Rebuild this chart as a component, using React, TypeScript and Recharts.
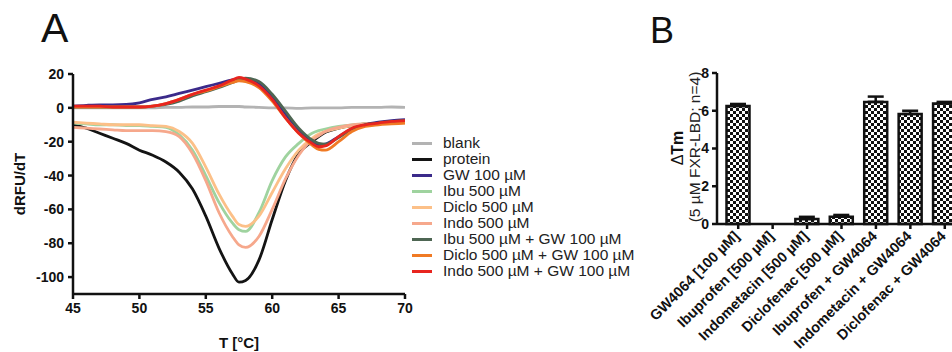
import React from 'react';
import {
  LineChart,
  Line,
  XAxis,
  YAxis,
  BarChart,
  Bar,
  ErrorBar,
} from 'recharts';

// Panel A: melting curves (first derivative), sampled temperatures
const temps = [45, 46, 47, 48, 49, 50, 51, 52, 53, 54, 55, 56, 57, 57.5, 58, 59, 60, 61, 62, 63, 63.5, 64, 65, 66, 67, 68, 69, 70];

const blank = [0, 0, 0, 0, 0, 0, 0, 0.3, 0.3, 0.5, 0.5, 0.8, 0.8, 0.8, 0.5, 0.3, 0, 0, -0.3, 0, 0, 0, 0, 0.3, 0.3, 0.3, 0.5, 0.3];
const protein = [-10, -12, -15, -18, -21, -25, -28, -32, -38, -48, -64, -83, -98, -103, -102, -90, -66, -43, -27, -20, -17, -14.5, -12, -10.5, -9.5, -9, -8.5, -8];
const gw100 = [1, 1.5, 1.8, 1.8, 2, 3, 5, 6.5, 8.5, 10.5, 12.5, 14.5, 16.5, 17, 17, 14, 6, -4, -13, -20, -22, -21.5, -17, -12.5, -10, -8.5, -7.5, -7];
const ibu500 = [-9, -9.5, -10, -10, -10.5, -10.5, -11, -11.5, -16, -25, -40, -56, -68, -72, -73, -62, -43, -29, -21, -15, -13.5, -12.5, -11, -10, -9.5, -9, -8.5, -8];
const diclo500 = [-8.5, -9, -9.5, -10, -10, -10, -10.5, -11, -14, -21, -35, -51, -64, -69, -70, -64, -50, -36, -25, -18, -15.5, -14, -12, -10.5, -9.5, -9, -9, -9];
const indo500 = [-11.5, -12, -12.5, -13, -13.5, -13.5, -13.5, -14, -17, -27, -43, -62, -76, -81, -82.5, -76, -60, -42, -28, -19, -16.5, -14, -11.5, -10, -9.5, -9, -9, -8.5];
const ibuGw = [0.5, 0.5, 0.5, 0.5, 0.5, 0.5, 1, 2, 4, 7, 9.5, 12, 15, 16.5, 17.5, 15.5, 8, -2, -12, -19, -21, -21.5, -17.5, -12.5, -10, -9, -8, -7.5];
const dicloGw = [0.5, 0.5, 0.5, 0.5, 0.5, 0.5, 1, 2.5, 5, 8, 10, 12.5, 15, 16, 15.5, 12, 4, -6, -15, -22, -24.5, -25, -20, -14, -11, -10, -9.5, -9];
const indoGw = [1, 1, 1, 0.5, 0.5, 0.5, 1, 2.5, 5, 8, 10.5, 13, 16.5, 18, 17, 13, 5, -6, -15, -21, -23, -22.5, -17, -12, -10, -9, -8, -7.5];

const xTicks = [45, 50, 55, 60, 65, 70];
const yTicks = [20, 0, -20, -40, -60, -80, -100];

const series = [
  { key: 'blank', name: 'blank', values: blank, color: '#b3b3b3' },
  { key: 'protein', name: 'protein', values: protein, color: '#141414' },
  { key: 'ibu500', name: 'Ibu 500 µM', values: ibu500, color: '#9fd39f' },
  { key: 'diclo500', name: 'Diclo 500 µM', values: diclo500, color: '#fcc088' },
  { key: 'indo500', name: 'Indo 500 µM', values: indo500, color: '#f6a88c' },
  { key: 'gw100', name: 'GW 100 µM', values: gw100, color: '#3b2a8a' },
  { key: 'ibuGw', name: 'Ibu 500 µM + GW 100 µM', values: ibuGw, color: '#4e6653' },
  { key: 'dicloGw', name: 'Diclo 500 µM + GW 100 µM', values: dicloGw, color: '#f07a24' },
  { key: 'indoGw', name: 'Indo 500 µM + GW 100 µM', values: indoGw, color: '#e8251f' },
];

// legend order as in the figure
const legendOrder = ['blank', 'protein', 'gw100', 'ibu500', 'diclo500', 'indo500', 'ibuGw', 'dicloGw', 'indoGw'];

// Panel B: delta Tm
const compounds = [
  'GW4064 [100 µM]',
  'Ibuprofen [500 µM]',
  'Indometacin [500 µM]',
  'Diclofenac [500 µM]',
  'Ibuprofen + GW4064',
  'Indometacin + GW4064',
  'Diclofenac + GW4064',
];
const deltaTm = [6.25, 0, 0.26, 0.39, 6.47, 5.83, 6.39];
const deltaTmErr = [0.11, 0, 0.12, 0.09, 0.28, 0.17, 0.08];

const curveData = temps.map((t, i) => {
  const row: { [k: string]: number } = { t };
  series.forEach((s) => {
    row[s.key] = s.values[i];
  });
  return row;
});

const barData = compounds.map((name, i) => ({
  name,
  dtm: deltaTm[i],
  err: [0, deltaTmErr[i]],
}));

const FONT = '"Liberation Sans", Arial, sans-serif';

const RotatedTick = (props: any) => {
  const { x, y, payload } = props;
  const tx = x + 2;
  const ty = y + 6;
  return (
    <text
      x={tx}
      y={ty}
      transform={`rotate(-45, ${tx}, ${ty})`}
      textAnchor="end"
      fontFamily={FONT}
      fontWeight="bold"
      fontSize={14.5}
      fill="#111"
    >
      {payload.value}
    </text>
  );
};

export default function App() {
  const axisTick = { fontFamily: FONT, fontWeight: 'bold', fontSize: 14, fill: '#111' };
  return (
    <div
      style={{
        position: 'absolute',
        left: 0,
        top: 0,
        width: 952,
        height: 352,
        overflow: 'hidden',
        background: '#fff',
        fontFamily: FONT,
      }}
    >
      {/* Panel letters */}
      <div style={{ position: 'absolute', left: 41, top: 6, fontSize: 41, lineHeight: '44px', color: '#111' }}>A</div>
      <div style={{ position: 'absolute', left: 650, top: 12, fontSize: 36, lineHeight: '38px', color: '#111' }}>B</div>

      {/* Panel A */}
      <div style={{ position: 'absolute', left: 0, top: 0 }}>
        <LineChart
          width={640}
          height={352}
          data={curveData}
          margin={{ top: 74, right: 235, bottom: 0, left: 0 }}
        >
          <XAxis
            dataKey="t"
            type="number"
            domain={[45, 70]}
            ticks={xTicks}
            allowDataOverflow
            height={58}
            stroke="#111"
            strokeWidth={2.5}
            tickSize={5}
            tickMargin={4}
            tick={axisTick}
            label={{
              value: 'T [°C]',
              position: 'insideBottom',
              offset: 4,
              style: { fontFamily: FONT, fontWeight: 'bold', fontSize: 15, fill: '#111' },
            }}
          />
          <YAxis
            type="number"
            domain={[-110, 20]}
            ticks={yTicks}
            allowDataOverflow
            width={73}
            stroke="#111"
            strokeWidth={2.5}
            tickSize={5}
            tickMargin={4}
            tick={axisTick}
            label={{
              value: 'dRFU/dT',
              angle: -90,
              position: 'insideLeft',
              offset: 20,
              style: { fontFamily: FONT, fontWeight: 'bold', fontSize: 15, fill: '#111', textAnchor: 'middle' },
            }}
          />
          {series.map((s) => (
            <Line
              key={s.key}
              type="monotone"
              dataKey={s.key}
              name={s.name}
              stroke={s.color}
              strokeWidth={2.8}
              dot={false}
              isAnimationActive={false}
            />
          ))}
        </LineChart>
      </div>

      {/* Legend for panel A */}
      <div style={{ position: 'absolute', left: 412, top: 135 }}>
        {legendOrder.map((k) => {
          const s = series.find((x) => x.key === k)!;
          return (
            <div key={k} style={{ display: 'flex', alignItems: 'center', height: 16 }}>
              <span style={{ width: 20, height: 3, background: s.color, display: 'inline-block', marginRight: 11 }} />
              <span style={{ fontSize: 15.5, color: '#222', whiteSpace: 'nowrap' }}>{s.name}</span>
            </div>
          );
        })}
      </div>

      {/* Panel B y-axis title */}
      <div
        style={{
          position: 'absolute',
          left: 678,
          top: 148,
          transform: 'translate(-50%, -50%) rotate(-90deg)',
          whiteSpace: 'nowrap',
          fontSize: 16,
          color: '#111',
        }}
      >
        Δ<b>Tm</b>
      </div>
      <div
        style={{
          position: 'absolute',
          left: 695,
          top: 147,
          transform: 'translate(-50%, -50%) rotate(-90deg)',
          whiteSpace: 'nowrap',
          fontSize: 15.5,
          color: '#222',
        }}
      >
        (5 µM FXR-LBD; n=4)
      </div>

      {/* Panel B */}
      <div style={{ position: 'absolute', left: 640, top: 0 }}>
        <BarChart
          width={330}
          height={352}
          data={barData}
          margin={{ top: 73, right: 8, bottom: 0, left: 0 }}
          barCategoryGap={5.5}
        >
          <defs>
            <pattern id="checker" width={6} height={6} patternUnits="userSpaceOnUse">
              <rect width={6} height={6} fill="#fff" />
              <rect width={3} height={3} fill="#111" />
              <rect x={3} y={3} width={3} height={3} fill="#111" />
            </pattern>
          </defs>
          <XAxis
            dataKey="name"
            interval={0}
            height={128}
            padding={{ left: 4, right: 0 }}
            stroke="#111"
            strokeWidth={2.5}
            tickSize={5}
            tick={<RotatedTick />}
          />
          <YAxis
            type="number"
            domain={[0, 8]}
            ticks={[0, 2, 4, 6, 8]}
            width={77}
            stroke="#111"
            strokeWidth={2.5}
            tickSize={5}
            tickMargin={3}
            tick={axisTick}
          />
          <Bar
            dataKey="dtm"
            fill="url(#checker)"
            stroke="#111"
            strokeWidth={2.5}
            isAnimationActive={false}
          >
            <ErrorBar dataKey="err" width={8} stroke="#111" strokeWidth={2.5} direction="y" />
          </Bar>
        </BarChart>
      </div>
    </div>
  );
}
